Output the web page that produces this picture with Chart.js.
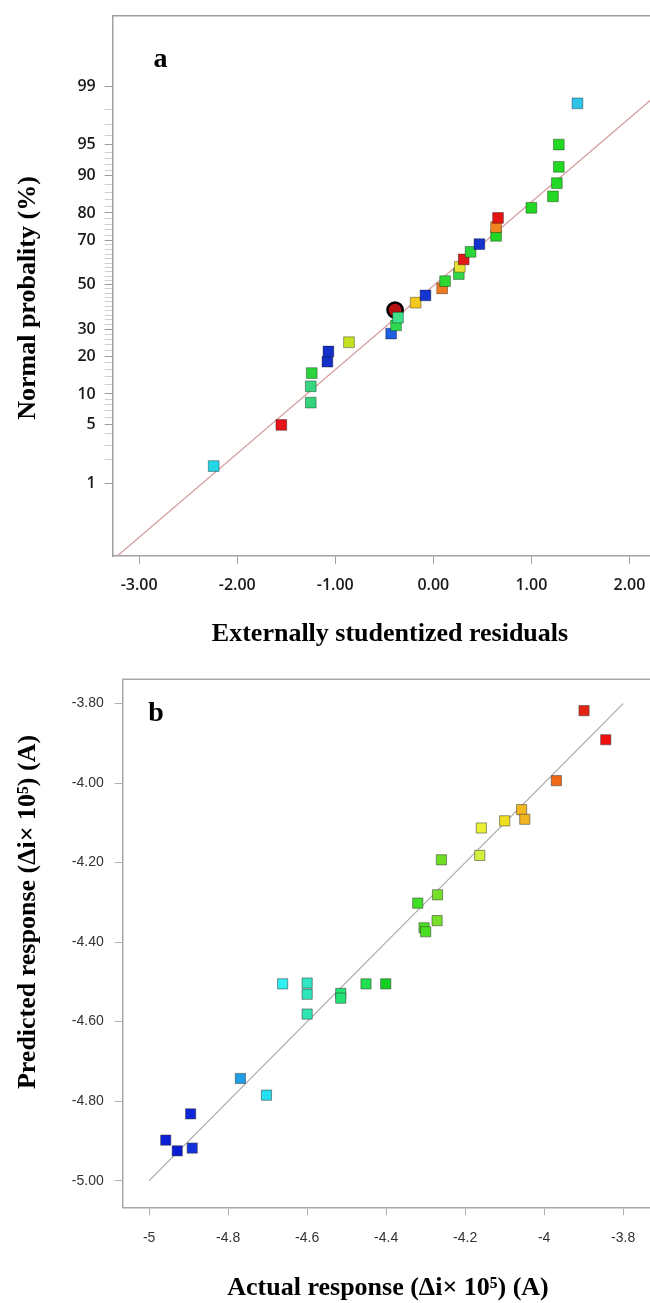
<!DOCTYPE html>
<html>
<head>
<meta charset="utf-8">
<script src="https://cdn.jsdelivr.net/npm/chart.js@4.4.1/dist/chart.umd.min.js"></script>
<style>
  body { margin: 0; background: #fff; }
  #wrap { position: relative; width: 650px; height: 1303px; overflow: hidden; }
  canvas { position: absolute; left: 0; }
  #chartA { top: 0; }
  #chartB { top: 650px; }
</style>
</head>
<body>
<div id="wrap">
  <canvas id="chartA" width="650" height="650"></canvas>
  <canvas id="chartB" width="650" height="653"></canvas>
</div>
<script>
// ---- panel a : normal probability of residuals ----
const residuals = [-2.24, -1.55, -1.25, -1.25, -1.24, -1.08, -1.07, -0.86, -0.43, -0.39,
  -0.38, -0.36, -0.18, -0.08, 0.09, 0.12, 0.26, 0.27, 0.31, 0.38,
  0.47, 0.64, 0.64, 0.66, 1.00, 1.22, 1.26, 1.28, 1.28, 1.47];
const normalProb = [1.67, 5, 8.33, 11.67, 15, 18.33, 21.67, 25, 28.33, 38.33,
  31.67, 35, 41.67, 45, 48.33, 51.67, 55, 58.33, 61.67, 65,
  68.33, 71.67, 75, 78.33, 81.67, 85, 88.33, 91.67, 95, 98.33];
const colorsA = ['#25d6e6', '#e4141a', '#34d27a', '#38d47e', '#2ad43a', '#1530c8', '#1530c8', '#c6e024', '#1d5fe0', '#b81010',
  '#2ed84c', '#3ee08a', '#f2c81e', '#1535d0', '#ee7a22', '#2ed832', '#32d84a', '#e6e234', '#e01a1a', '#2cd43a',
  '#1432cc', '#22d624', '#f08420', '#e21414', '#22d822', '#22d822', '#22d822', '#22d822', '#22d822', '#2ec4ea'];
const highlightA = 9; // the circled run

const fitLineRes = [-3.22, 2.22];
const fitLineProb = [0.074, 98.5];

const resTicks = [-3, -2, -1, 0, 1, 2];
const probMajor = [1, 5, 10, 20, 30, 50, 70, 80, 90, 95, 99];
const probMinor = [2, 3, 4, 6, 7, 8, 9, 12, 14, 16, 18, 22, 24, 26, 28, 32, 34, 36, 38, 40, 42, 44, 46, 48,
  52, 54, 56, 58, 60, 62, 64, 66, 68, 72, 74, 76, 78, 82, 84, 86, 88, 91, 92, 93, 94, 96, 97, 98];

// ---- panel b : predicted vs actual ----
const actual = [-4.958, -4.929, -4.891, -4.895, -4.769, -4.703, -4.662, -4.600, -4.600, -4.600,
  -4.515, -4.515, -4.451, -4.401, -4.320, -4.304, -4.300, -4.271, -4.270, -4.260,
  -4.163, -4.159, -4.100, -4.057, -4.049, -3.969, -3.899, -3.844];
const predicted = [-4.898, -4.925, -4.918, -4.832, -4.743, -4.785, -4.505, -4.503, -4.531, -4.581,
  -4.529, -4.541, -4.505, -4.505, -4.302, -4.364, -4.374, -4.346, -4.281, -4.193,
  -4.182, -4.113, -4.095, -4.067, -4.091, -3.994, -3.818, -3.891];
const colorsB = ['#0c1ed6', '#0a1cd2', '#1232dc', '#0e26d8', '#1e9ee6', '#22e0f2', '#2ef0f0', '#2ee6c4', '#2ee6bc', '#2ee6b4',
  '#22e274', '#22e274', '#22e052', '#12d022', '#3ee024', '#4ade22', '#4ade22', '#76e02a', '#76e02a', '#6ede22',
  '#d4f03e', '#eaf034', '#f2e020', '#f2b820', '#f2b420', '#f06a18', '#e42212', '#f01010'];
const diagLine = [-5, -3.8];
const actualTicks = [-5, -4.8, -4.6, -4.4, -4.2, -4, -3.8];
const predTicks = [-5, -4.8, -4.6, -4.4, -4.2, -4, -3.8];

// inverse normal cdf (Acklam), input in percent
function probit(pct) {
  const p = pct / 100;
  const a = [-39.69683028665376, 220.9460984245205, -275.9285104469687, 138.3577518672690, -30.66479806614716, 2.506628277459239];
  const b = [-54.47609879822406, 161.5858368580409, -155.6989798598866, 66.80131188771972, -13.28068155922803];
  const c = [-0.007784894002430293, -0.3223964580411365, -2.400758277161838, -2.549732539343734, 4.374664141464968, 2.938163982698783];
  const d = [0.007784695709041462, 0.3224671290700398, 2.445134137142996, 3.754408661907416];
  const lo = 0.02425;
  let q, r;
  if (p < lo) {
    q = Math.sqrt(-2 * Math.log(p));
    return (((((c[0] * q + c[1]) * q + c[2]) * q + c[3]) * q + c[4]) * q + c[5]) / ((((d[0] * q + d[1]) * q + d[2]) * q + d[3]) * q + 1);
  }
  if (p > 1 - lo) {
    q = Math.sqrt(-2 * Math.log(1 - p));
    return -(((((c[0] * q + c[1]) * q + c[2]) * q + c[3]) * q + c[4]) * q + c[5]) / ((((d[0] * q + d[1]) * q + d[2]) * q + d[3]) * q + 1);
  }
  q = p - 0.5;
  r = q * q;
  return (((((a[0] * r + a[1]) * r + a[2]) * r + a[3]) * r + a[4]) * r + a[5]) * q / (((((b[0] * r + b[1]) * r + b[2]) * r + b[3]) * r + b[4]) * r + 1);
}

function normCdf(z) {
  const t = 1 / (1 + 0.3275911 * Math.abs(z) / Math.SQRT2);
  const e = 1 - (((((1.061405429 * t - 1.453152027) * t) + 1.421413741) * t - 0.284496736) * t + 0.254829592) * t * Math.exp(-z * z / 2);
  return 50 * (1 + (z < 0 ? -e : e));
}

// normal probability axis
class ProbitScale extends Chart.Scale {
  determineDataLimits() {
    this.min = this.options.min;
    this.max = this.options.max;
  }
  buildTicks() {
    return probMajor.concat(probMinor).sort((p, q) => p - q).map(v => ({ value: v }));
  }
  configure() {
    super.configure();
    this._z0 = probit(this.min);
    this._zr = probit(this.max) - this._z0;
  }
  getPixelForValue(v) {
    return this.getPixelForDecimal((probit(v) - this._z0) / this._zr);
  }
  getValueForPixel(px) {
    return normCdf(this._z0 + this.getDecimalForPixel(px) * this._zr);
  }
  getLabelForValue(v) {
    return String(v);
  }
}
ProbitScale.id = 'probit';
ProbitScale.defaults = {};
Chart.register(ProbitScale);

// frame top line, panel letter and axis titles
const decor = {
  id: 'decor',
  afterDraw(chart, args, o) {
    const { ctx, chartArea: a } = chart;
    ctx.save();
    ctx.strokeStyle = o.frameColor;
    ctx.lineWidth = 1.5;
    ctx.beginPath();
    ctx.moveTo(a.left, a.top);
    ctx.lineTo(chart.width, a.top);
    ctx.stroke();
    ctx.beginPath();

    ctx.fillStyle = '#000';
    ctx.textAlign = 'center';
    ctx.textBaseline = 'middle';
    ctx.font = o.letterFont;
    ctx.fillText(o.letter, o.letterX, o.letterY);

    ctx.font = "bold 26px 'Liberation Serif', 'DejaVu Serif', serif";
    ctx.fillText(o.xTitle, o.xTitleX, o.xTitleY);
    ctx.translate(o.yTitleX, o.yTitleY);
    ctx.rotate(-Math.PI / 2);
    ctx.fillText(o.yTitle, 0, 0);
    ctx.restore();
  }
};

const sansA = "'Open Sans', 'Liberation Sans', sans-serif";
const sansB = "'Liberation Sans', Arial, sans-serif";

// keep the plot area edges fixed
function fixX(h) {
  return s => { s.height = h; s.paddingLeft = 0; s.paddingRight = 0; };
}
function fixY(w) {
  return s => { s.width = w; s.paddingTop = 0; s.paddingBottom = 0; };
}

new Chart(document.getElementById('chartA'), {
  type: 'scatter',
  data: {
    datasets: [{
      data: residuals.map((r, i) => ({ x: r, y: normalProb[i] })),
      pointStyle: residuals.map((r, i) => i === highlightA ? 'circle' : 'rect'),
      pointRadius: 7.6,
      backgroundColor: colorsA,
      borderColor: residuals.map((r, i) => i === highlightA ? '#000' : 'rgba(0,0,0,0.35)'),
      borderWidth: residuals.map((r, i) => i === highlightA ? 2.5 : 1)
    }, {
      data: fitLineRes.map((r, i) => ({ x: r, y: fitLineProb[i] })),
      showLine: true,
      pointRadius: 0,
      borderColor: '#d6a0a0',
      borderWidth: 1.4
    }]
  },
  options: {
    responsive: false,
    animation: false,
    layout: { autoPadding: false, padding: { top: 15.7, left: 0, right: 0, bottom: 0 } },
    plugins: {
      legend: { display: false },
      tooltip: { enabled: false },
      decor: {
        frameColor: '#a0a0a0',
        letter: 'a', letterFont: "bold 28px 'Liberation Serif', serif", letterX: 160.5, letterY: 60,
        xTitle: 'Externally studentized residuals', xTitleX: 390, xTitleY: 634,
        yTitle: 'Normal probality (%)', yTitleX: 28, yTitleY: 298
      }
    },
    scales: {
      x: {
        type: 'linear',
        min: -3.27,
        max: 2.21,
        afterBuildTicks: s => { s.ticks = resTicks.map(v => ({ value: v })); },
        afterFit: fixX(94),
        border: { display: true, color: '#a0a0a0', width: 1.5 },
        grid: { drawOnChartArea: false, drawTicks: true, tickLength: 8, color: '#a0a0a0' },
        ticks: { autoSkip: false, maxRotation: 0, padding: 12, color: '#1a1a1a',
          font: { family: sansA, size: 16, weight: '600' },
          callback: v => v.toFixed(2) }
      },
      y: {
        type: 'probit',
        position: 'left',
        min: 0.073,
        max: 99.92,
        afterFit: fixY(112.7),
        border: { display: true, color: '#a0a0a0', width: 1.5 },
        grid: { drawOnChartArea: false, drawTicks: true, tickLength: 8,
          color: c => probMajor.includes(c.tick && c.tick.value) ? '#9a9a9a' : '#cfcfcf' },
        ticks: { autoSkip: false, padding: 9, color: '#1a1a1a',
          font: { family: sansA, size: 16, weight: '600' },
          callback: v => probMajor.includes(v) ? String(v) : '' }
      }
    }
  },
  plugins: [decor]
});

new Chart(document.getElementById('chartB'), {
  type: 'scatter',
  data: {
    datasets: [{
      data: actual.map((v, i) => ({ x: v, y: predicted[i] })),
      pointStyle: 'rect',
      pointRadius: 7.2,
      backgroundColor: colorsB,
      borderColor: 'rgba(60,60,60,0.55)',
      borderWidth: 1
    }, {
      data: diagLine.map(v => ({ x: v, y: v })),
      showLine: true,
      pointRadius: 0,
      borderColor: '#a8a8a8',
      borderWidth: 1.2
    }]
  },
  options: {
    responsive: false,
    animation: false,
    layout: { autoPadding: false, padding: { top: 29.3, left: 0, right: 0, bottom: 0 } },
    plugins: {
      legend: { display: false },
      tooltip: { enabled: false },
      decor: {
        frameColor: '#a8a8a8',
        letter: 'b', letterFont: "bold 28px 'Liberation Serif', serif", letterX: 156, letterY: 64,
        xTitle: 'Actual response (\u0394i\u00d7 10\u2075) (A)', xTitleX: 388, xTitleY: 638,
        yTitle: 'Predicted response (\u0394i\u00d7 10\u2075) (A)', yTitleX: 28, yTitleY: 262
      }
    },
    scales: {
      x: {
        type: 'linear',
        min: -5.067,
        max: -3.732,
        afterBuildTicks: s => { s.ticks = actualTicks.map(v => ({ value: v })); },
        afterFit: fixX(95.7),
        border: { display: true, color: '#a8a8a8', width: 1.5 },
        grid: { drawOnChartArea: false, drawTicks: true, tickLength: 8, color: '#b0b0b0' },
        ticks: { autoSkip: false, maxRotation: 0, padding: 14, color: '#333',
          font: { family: sansB, size: 14 },
          callback: v => String(Number(v.toFixed(1))) }
      },
      y: {
        type: 'linear',
        min: -5.067,
        max: -3.739,
        afterBuildTicks: s => { s.ticks = predTicks.map(v => ({ value: v })); },
        afterFit: fixY(122.7),
        border: { display: true, color: '#a8a8a8', width: 1.5 },
        grid: { drawOnChartArea: false, drawTicks: true, tickLength: 8, color: '#b0b0b0' },
        ticks: { autoSkip: false, padding: 11, color: '#333',
          font: { family: sansB, size: 14 },
          callback: v => v.toFixed(2) }
      }
    }
  },
  plugins: [decor]
});
</script>
</body>
</html>
